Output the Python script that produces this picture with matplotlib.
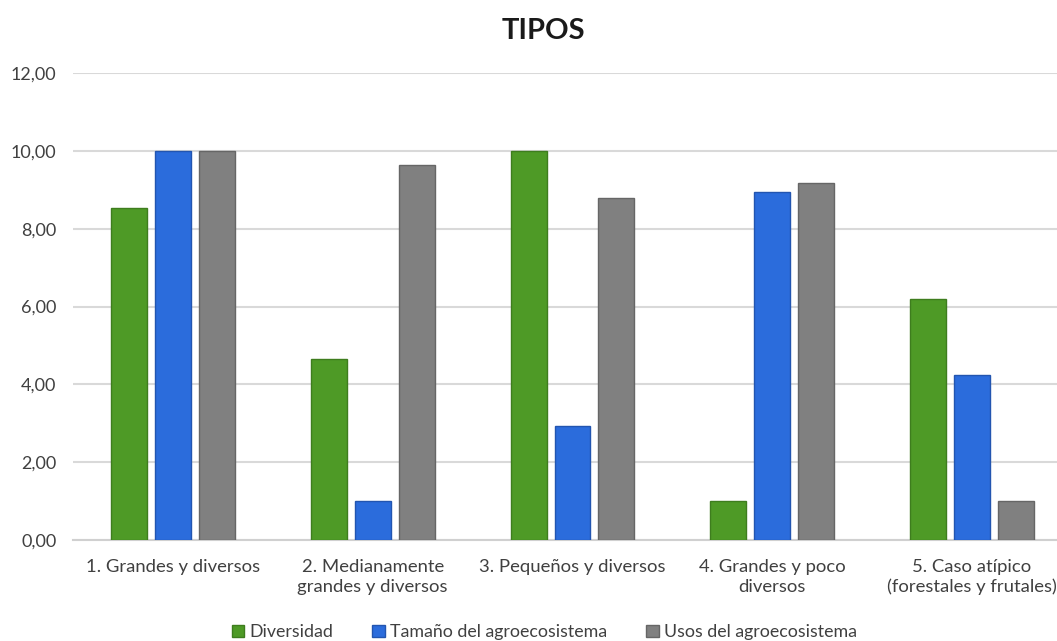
import matplotlib
matplotlib.use("Agg")
import matplotlib.pyplot as plt
import numpy as np

plt.rcParams['font.family'] = ['Lato', 'DejaVu Sans']

categories = [
    "1. Grandes y diversos",
    "2. Medianamente\ngrandes y diversos",
    "3. Pequeños y diversos",
    "4. Grandes y poco\ndiversos",
    "5. Caso atípico\n(forestales y frutales)",
]
series_names = ["Diversidad", "Tamaño del agroecosistema", "Usos del agroecosistema"]
diversidad = [8.53, 4.65, 10.0, 1.0, 6.19]
tamano = [10.0, 1.0, 2.92, 8.95, 4.24]
usos = [10.0, 9.63, 8.79, 9.17, 1.0]
y_ticks = [0, 2, 4, 6, 8, 10, 12]

colors = ["#4E9A26", "#2B6CDC", "#808080"]
edges = ["#3E7D1E", "#2255B0", "#666666"]

fig = plt.figure(figsize=(10.57, 6.41), dpi=100)
ax = fig.add_axes([73 / 1057, 101 / 641, 999 / 1057, 467 / 641])

x = np.arange(len(categories))
width = 0.18
offsets = [-0.22, 0.0, 0.22]
handles = []
for vals, off, c, e, name in zip([diversidad, tamano, usos], offsets, colors, edges, series_names):
    h = ax.bar(x + off, vals, width, color=c, edgecolor=e, linewidth=1.0, label=name, zorder=3)
    handles.append(h)

ax.set_xlim(-0.5, 4.5)
ax.set_ylim(0, 12)
ax.set_yticks(y_ticks)
ax.set_yticklabels([f"{v:.2f}".replace(".", ",") for v in y_ticks], fontsize=13, color="#404040")
ax.set_xticks(x)
ax.set_xticklabels(categories, fontsize=13.3, color="#404040", linespacing=1.25)
ax.tick_params(axis="both", length=0)
ax.tick_params(axis="y", pad=12)
ax.tick_params(axis="x", pad=14)
ax.yaxis.grid(True, color="#D9D9D9", linewidth=1.5, zorder=0)
for s in ["top", "right", "left"]:
    ax.spines[s].set_visible(False)
ax.spines["bottom"].set_color("#D0D0D0")
ax.spines["bottom"].set_linewidth(1.5)

fig.text(0.514, 0.952, "TIPOS", ha="center", va="center", fontsize=21, fontweight="bold", color="#1a1a1a")

fig.legend(handles=handles, labels=series_names, loc="center", bbox_to_anchor=(0.515, 0.014),
           ncol=3, frameon=False, fontsize=12.8, handlelength=0.7, handleheight=0.7,
           handletextpad=0.3, columnspacing=2.2, labelcolor="#404040")

fig.savefig("out.png", dpi=100)
